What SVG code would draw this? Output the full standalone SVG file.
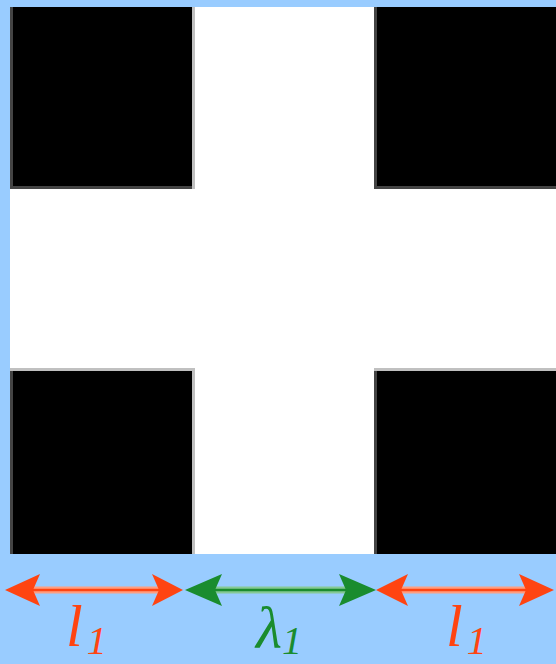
<svg xmlns="http://www.w3.org/2000/svg" width="556" height="664" viewBox="0 0 556 664">
<defs>
<style>
.blk{fill:#000}
.dk{fill:#444}
.lt{fill:#c0c0c0}
.rh{fill:#ff4411}
.gh{fill:#1a8c2e}
.lbl{font-family:"Liberation Serif","DejaVu Serif",serif;font-style:italic}
</style>
</defs>
<rect x="0" y="0" width="556" height="664" fill="#99ccff"/>
<rect x="10" y="7" width="546" height="547" fill="#fff"/>
<g id="square-tl">
<rect class="blk" x="10" y="7" width="185" height="182"/>
<rect class="dk" x="10" y="7" width="3" height="182"/>
<rect class="dk" x="10" y="186" width="182" height="3"/>
<rect class="lt" x="192" y="7" width="3" height="182"/>
</g>
<g id="square-tr">
<rect class="blk" x="374" y="7" width="182" height="182"/>
<rect class="dk" x="374" y="7" width="3" height="182"/>
<rect class="dk" x="374" y="186" width="182" height="3"/>
</g>
<g id="square-bl">
<rect class="blk" x="10" y="368" width="185" height="186"/>
<rect class="lt" x="10" y="368" width="185" height="3"/>
<rect class="dk" x="10" y="371" width="3" height="183"/>
<rect class="lt" x="192" y="368" width="3" height="186"/>
</g>
<g id="square-br">
<rect class="blk" x="374" y="368" width="182" height="186"/>
<rect class="lt" x="374" y="368" width="182" height="3"/>
<rect class="dk" x="374" y="371" width="3" height="183"/>
</g>
<g id="connectors">
<g id="dim-l1-left">
<line x1="30" y1="590" x2="160" y2="590" stroke="#ff9e80" stroke-width="7"/>
<line x1="30" y1="590" x2="160" y2="590" stroke="#ff4411" stroke-width="2.5"/>
<polygon class="rh" points="5,590 40,574 33,590 40,606"/>
<polygon class="rh" points="183,590 152,574 159,590 152,606"/>
</g>
<g id="dim-lambda">
<line x1="212" y1="590" x2="350" y2="590" stroke="#85c995" stroke-width="7"/>
<line x1="212" y1="590" x2="350" y2="590" stroke="#1a8c2e" stroke-width="2.5"/>
<polygon class="gh" points="185,590 222,574 215,590 222,606"/>
<polygon class="gh" points="376,590 339,574 346,590 339,606"/>
</g>
<g id="dim-l1-right">
<line x1="400" y1="590" x2="530" y2="590" stroke="#ff9e80" stroke-width="7"/>
<line x1="400" y1="590" x2="530" y2="590" stroke="#ff4411" stroke-width="2.5"/>
<polygon class="rh" points="376,590 408,574 401,590 408,606"/>
<polygon class="rh" points="554,590 519,574 526,590 519,606"/>
</g>
</g>
<g id="label-l1-left">
<text class="lbl" x="66" y="646" font-size="60" fill="#ff4411">l<tspan font-size="40" dx="4" dy="8">1</tspan></text>
</g>
<g id="label-lambda">
<text class="lbl" x="256" y="648" font-size="60" fill="#1a8c2e">λ<tspan font-size="40" dy="6">1</tspan></text>
</g>
<g id="label-l1-right">
<text class="lbl" x="446" y="646" font-size="60" fill="#ff4411">l<tspan font-size="40" dx="4" dy="8">1</tspan></text>
</g>
</svg>
